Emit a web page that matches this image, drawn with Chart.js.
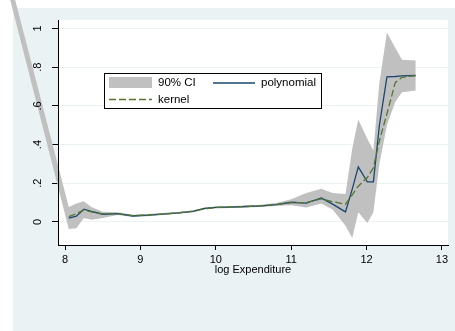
<!DOCTYPE html>
<html>
<head>
<meta charset="utf-8">
<script src="https://cdn.jsdelivr.net/npm/chart.js@4.4.0/dist/chart.umd.min.js"></script>
<style>
  html, body { margin: 0; padding: 0; background: #fff; }
  canvas { display: block; }
</style>
</head>
<body>
<canvas id="c" width="455" height="331"></canvas>
<script>
// Evaluation points (log expenditure) shared by both fitted curves
const logExpenditure = [8.05, 8.15, 8.25, 8.35, 8.5, 8.7, 8.9, 9.1, 9.3, 9.5, 9.7, 9.85,
  10.0, 10.2, 10.4, 10.6, 10.8, 11.0, 11.2, 11.4, 11.55, 11.72, 11.81, 11.89, 12.01,
  12.09, 12.17, 12.27, 12.38, 12.47, 12.65];

// Local polynomial fit
const polynomialFit = [0.020, 0.030, 0.066, 0.055, 0.040, 0.043, 0.031, 0.035, 0.041, 0.047,
  0.055, 0.070, 0.075, 0.077, 0.080, 0.083, 0.090, 0.102, 0.097, 0.124, 0.092, 0.052, 0.170,
  0.285, 0.207, 0.207, 0.500, 0.750, 0.752, 0.755, 0.757];

// Kernel regression fit
const kernelFit = [0.028, 0.042, 0.062, 0.052, 0.042, 0.042, 0.033, 0.036, 0.041, 0.047,
  0.056, 0.068, 0.075, 0.077, 0.080, 0.084, 0.090, 0.100, 0.100, 0.120, 0.105, 0.092, 0.140,
  0.185, 0.230, 0.280, 0.420, 0.560, 0.720, 0.748, 0.757];

// 90% confidence band; its grid starts with one extra point at 7.0
const ciX = [7.0].concat(logExpenditure);
const ciUpper = [1.658, 0.078, 0.095, 0.107, 0.078, 0.053, 0.050, 0.037, 0.041, 0.046, 0.052,
  0.060, 0.075, 0.080, 0.082, 0.085, 0.089, 0.098, 0.118, 0.150, 0.172, 0.150, 0.145, 0.380,
  0.530, 0.430, 0.370, 0.720, 0.980, 0.900, 0.838, 0.835];
const ciLower = [1.564, -0.036, -0.032, 0.020, 0.012, 0.020, 0.036, 0.026, 0.030, 0.036, 0.042,
  0.050, 0.064, 0.070, 0.072, 0.075, 0.078, 0.082, 0.086, 0.075, 0.095, 0.065, -0.020, -0.083,
  0.050, -0.005, 0.050, 0.300, 0.500, 0.620, 0.670, 0.680];

const xTickValues = [8, 9, 10, 11, 12, 13];
const yTickValues = [0, 0.2, 0.4, 0.6, 0.8, 1];
const yTickLabels = ['0', '.2', '.4', '.6', '.8', '1'];
const legendLabels = ['90% CI', 'polynomial', 'kernel'];
const xTitle = 'log Expenditure';

const FONT = '"Liberation Sans", Arial, Helvetica, sans-serif';
const COLORS = { bg: '#eaf2f3', ci: '#c0c0c0', poly: '#1a476f', kern: '#55752f' };

// Outer graph region and white plot region
const framePlugin = {
  id: 'frame',
  beforeDraw(chart) {
    const { ctx, chartArea: a } = chart;
    ctx.save();
    ctx.fillStyle = '#fff';
    ctx.fillRect(0, 0, chart.width, chart.height);
    ctx.fillStyle = COLORS.bg;
    ctx.fillRect(13, 8, chart.width - 13, chart.height - 8);
    ctx.fillStyle = '#fff';
    ctx.fillRect(a.left, a.top, a.right - a.left, a.bottom - a.top);
    ctx.restore();
  }
};

// Confidence band, filled between upper and lower bounds (not clipped to the plot area)
const ciBandPlugin = {
  id: 'ciBand',
  beforeDatasetsDraw(chart) {
    const { ctx, scales: { x, y } } = chart;
    ctx.save();
    ctx.beginPath();
    ciX.forEach((v, i) => {
      const px = x.getPixelForValue(v), py = y.getPixelForValue(ciUpper[i]);
      if (i === 0) ctx.moveTo(px, py); else ctx.lineTo(px, py);
    });
    for (let i = ciX.length - 1; i >= 0; i--) {
      ctx.lineTo(x.getPixelForValue(ciX[i]), y.getPixelForValue(ciLower[i]));
    }
    ctx.closePath();
    ctx.fillStyle = COLORS.ci;
    ctx.fill();
    ctx.restore();
  }
};

// Boxed key inside the plot region
const keyPlugin = {
  id: 'key',
  afterDraw(chart) {
    const ctx = chart.ctx;
    ctx.save();
    ctx.fillStyle = '#fff';
    ctx.fillRect(104.5, 73.5, 217, 35);
    ctx.strokeStyle = '#000';
    ctx.lineWidth = 1;
    ctx.strokeRect(104.5, 73.5, 217, 35);

    ctx.fillStyle = COLORS.ci;
    ctx.fillRect(109, 77, 43, 11);

    ctx.lineWidth = 1.3;
    ctx.strokeStyle = COLORS.poly;
    ctx.beginPath(); ctx.moveTo(213, 83); ctx.lineTo(255, 83); ctx.stroke();

    ctx.strokeStyle = COLORS.kern;
    ctx.setLineDash([7, 3]);
    ctx.beginPath(); ctx.moveTo(109, 99.5); ctx.lineTo(152, 99.5); ctx.stroke();
    ctx.setLineDash([]);

    ctx.fillStyle = '#000';
    ctx.font = '11.5px ' + FONT;
    ctx.textBaseline = 'middle';
    ctx.textAlign = 'left';
    ctx.fillText(legendLabels[0], 158, 83);
    ctx.fillText(legendLabels[1], 261, 83);
    ctx.fillText(legendLabels[2], 158, 99.5);
    ctx.restore();
  }
};

new Chart(document.getElementById('c'), {
  type: 'line',
  data: {
    datasets: [
      {
        label: legendLabels[2],
        data: logExpenditure.map((v, i) => ({ x: v, y: kernelFit[i] })),
        borderColor: COLORS.kern,
        borderWidth: 1.3,
        borderDash: [7, 3],
        pointRadius: 0,
        fill: false,
        tension: 0,
        order: 0
      },
      {
        label: legendLabels[1],
        data: logExpenditure.map((v, i) => ({ x: v, y: polynomialFit[i] })),
        borderColor: COLORS.poly,
        borderWidth: 1.3,
        pointRadius: 0,
        fill: false,
        tension: 0,
        order: 1
      }
    ]
  },
  options: {
    responsive: false,
    animation: false,
    events: [],
    layout: { padding: { left: 0, top: 20, right: 7, bottom: 0 } },
    plugins: { legend: { display: false }, tooltip: { enabled: false } },
    scales: {
      x: {
        type: 'linear',
        min: 7.907,
        max: 13.08,
        afterBuildTicks: s => { s.ticks = xTickValues.map(v => ({ value: v })); },
        afterFit: s => { s.height = 86; },
        grid: { drawOnChartArea: false, tickColor: '#000', tickLength: 5, tickWidth: 1 },
        border: { color: '#000', width: 1, z: 1 },
        ticks: { color: '#000', font: { family: FONT, size: 11 }, padding: 3, maxRotation: 0, autoSkip: false },
        title: { display: true, text: xTitle, color: '#000', font: { family: FONT, size: 11 }, padding: { top: 0, bottom: 54 } }
      },
      y: {
        type: 'linear',
        min: -0.119,
        max: 1.044,
        afterBuildTicks: s => { s.ticks = yTickValues.map(v => ({ value: v })); },
        afterFit: s => { s.width = 58; },
        grid: { color: COLORS.bg, lineWidth: 1, tickColor: '#000', tickLength: 6, tickWidth: 1 },
        border: { color: '#000', width: 1, z: 1 },
        ticks: {
          color: '#000', font: { family: FONT, size: 11 }, padding: 9, z: 1,
          minRotation: 90, maxRotation: 90, crossAlign: 'center', autoSkip: false,
          callback: (v, i) => yTickLabels[i]
        }
      }
    }
  },
  plugins: [framePlugin, ciBandPlugin, keyPlugin]
});
</script>
</body>
</html>
